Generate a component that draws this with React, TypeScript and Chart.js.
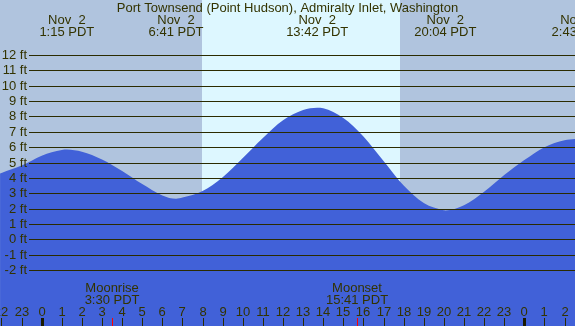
import React, { useEffect, useRef } from "react";
import { Chart, registerables } from "chart.js";

Chart.register(...registerables);

const TITLE = "Port Townsend (Point Hudson), Admiralty Inlet, Washington";

// tide heights (ft) vs hours from midnight Nov 2 (PDT)
const tideHours = [-2.07, -2, -1, 0, 1, 1.25, 2, 3, 4, 5, 6, 6.68, 7, 8, 9, 10, 11, 12, 13, 13.7, 14, 15, 16, 17, 18, 19, 20, 20.07, 21, 22, 23, 24, 25, 26, 26.52];
const tideFeet = [4.28, 4.32, 4.8, 5.45, 5.82, 5.85, 5.7, 5.2, 4.45, 3.6, 2.86, 2.64, 2.72, 3.15, 4.05, 5.3, 6.6, 7.75, 8.42, 8.57, 8.54, 7.9, 6.7, 5.1, 3.5, 2.36, 1.89, 1.88, 2.22, 3.1, 4.19, 5.16, 6.0, 6.45, 6.53];

// extremes shown in the header
const extremeHours = [1.25, 6.68, 13.7, 20.07, 26.72];
const extremeDates = ["Nov  2", "Nov  2", "Nov  2", "Nov  2", "Nov  3"];
const extremeTimes = ["1:15 PDT", "6:41 PDT", "13:42 PDT", "20:04 PDT", "2:43 PDT"];

// daylight span
const sunriseHour = 7.96;
const sunsetHour = 17.82;

// moon events
const moonHours = [3.5, 15.68];
const moonNames = ["Moonrise", "Moonset"];
const moonTimes = ["3:30 PDT", "15:41 PDT"];

const feetTicks = [12, 11, 10, 9, 8, 7, 6, 5, 4, 3, 2, 1, 0, -1, -2];
const hourTicks = [-2, -1, 0, 1, 2, 3, 4, 5, 6, 7, 8, 9, 10, 11, 12, 13, 14, 15, 16, 17, 18, 19, 20, 21, 22, 23, 24, 25, 26];

const X_MIN = -2.074;
const X_MAX = 26.52;
const Y_MIN = -5.64;
const Y_MAX = 15.58;

const TEXT = "#333300";
const FONT = '13px "Liberation Sans", Arial, sans-serif';

export default function App() {
  const ref = useRef<HTMLCanvasElement | null>(null);
  useEffect(() => {
    document.body.style.margin = "0";
    const canvas = ref.current!;
    const bgPlugin = {
      id: "bg",
      beforeDatasetsDraw(chart: any) {
        const { ctx, scales } = chart;
        const xs = scales.x;
        ctx.save();
        ctx.fillStyle = "#b0c4de";
        ctx.fillRect(0, 0, chart.width, chart.height);
        const x0 = Math.round(xs.getPixelForValue(sunriseHour));
        const x1 = Math.round(xs.getPixelForValue(sunsetHour));
        ctx.fillStyle = "#ddf7ff";
        ctx.fillRect(x0, 0, x1 - x0, chart.height);
        ctx.restore();
      },
    };
    const overlayPlugin = {
      id: "overlay",
      afterDatasetsDraw(chart: any) {
        const { ctx, scales } = chart;
        const xs = scales.x;
        const ys = scales.y;
        const W = chart.width;
        const H = chart.height;
        ctx.save();
        ctx.font = FONT;
        // grid lines + labels
        ctx.strokeStyle = "#2b2b00";
        ctx.lineWidth = 1;
        ctx.fillStyle = TEXT;
        ctx.textAlign = "right";
        ctx.textBaseline = "middle";
        for (const f of feetTicks) {
          const y = Math.round(ys.getPixelForValue(f)) + 0.5;
          ctx.beginPath();
          ctx.moveTo(29, y);
          ctx.lineTo(W, y);
          ctx.stroke();
          ctx.fillText(f + " ft", 27, y);
        }
        // title
        ctx.textAlign = "center";
        ctx.fillText(TITLE, W / 2, 8);
        // extremes
        extremeHours.forEach((h, i) => {
          const x = xs.getPixelForValue(h);
          ctx.fillText(extremeDates[i], x, 20);
          ctx.fillText(extremeTimes[i], x, 32);
        });
        // moon labels
        moonHours.forEach((h, i) => {
          const x = xs.getPixelForValue(h);
          ctx.fillText(moonNames[i], x, 288);
          ctx.fillText(moonTimes[i], x, 300);
        });
        // hour labels and ticks
        hourTicks.forEach((h) => {
          const x = Math.round(xs.getPixelForValue(h));
          const lbl = String(((h % 24) + 24) % 24);
          ctx.fillStyle = TEXT;
          ctx.fillText(lbl, x, 312);
          if (lbl === "0") {
            ctx.fillStyle = "#1a1a00";
            ctx.fillRect(x - 1, 318, 3, H - 318);
          } else {
            ctx.fillStyle = "#2b2b00";
            ctx.fillRect(x, 318, 1, H - 318);
          }
        });
        moonHours.forEach((h) => {
          const x = Math.round(xs.getPixelForValue(h));
          ctx.fillStyle = "#ff0000";
          ctx.fillRect(x, 318, 1, H - 318);
        });
        ctx.restore();
      },
    };
    const chart = new Chart(canvas, {
      type: "line",
      data: {
        datasets: [
          {
            data: tideHours.map((h, i) => ({ x: h, y: tideFeet[i] })),
            fill: "start",
            backgroundColor: "#4161d8",
            borderWidth: 0,
            borderColor: "rgba(0,0,0,0)",
            pointRadius: 0,
            cubicInterpolationMode: "monotone",
          },
        ],
      },
      options: {
        responsive: false,
        animation: false,
        layout: { padding: 0 },
        plugins: { legend: { display: false }, tooltip: { enabled: false } },
        scales: {
          x: { type: "linear", min: X_MIN, max: X_MAX, display: false },
          y: { type: "linear", min: Y_MIN, max: Y_MAX, display: false },
        },
      },
      plugins: [bgPlugin, overlayPlugin],
    });
    return () => chart.destroy();
  }, []);
  return <canvas ref={ref} width={575} height={326} style={{ display: "block" }} />;
}
